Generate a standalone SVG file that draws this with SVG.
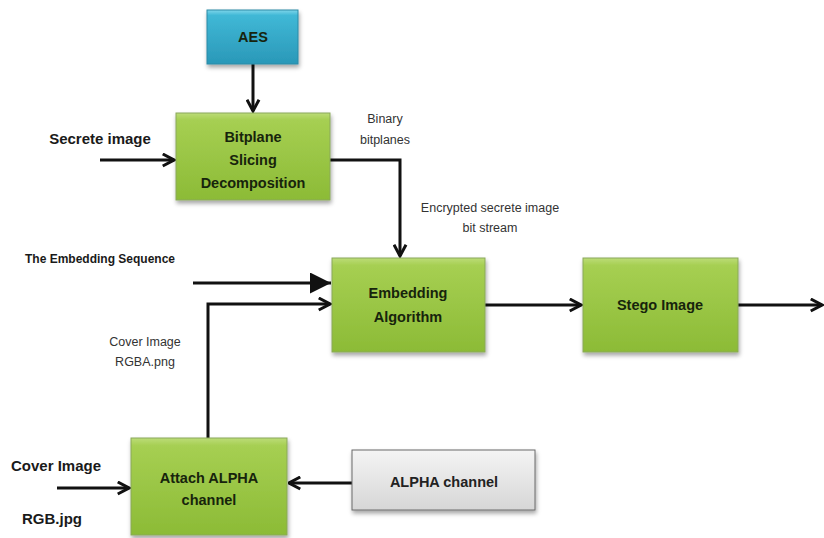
<svg xmlns="http://www.w3.org/2000/svg" width="824" height="538" viewBox="0 0 824 538">
<style>
.g{fill:url(#green);stroke:#8aa85a;stroke-width:1}
.lbl{font-family:"Liberation Sans",Arial,sans-serif;font-weight:bold;font-size:14.5px;fill:#17240c;text-anchor:middle;dominant-baseline:central}
.ext{font-family:"Liberation Sans",Arial,sans-serif;font-weight:bold;font-size:15px;fill:#1a1a1a;text-anchor:middle;dominant-baseline:central}
.note{font-family:"Liberation Sans",Arial,sans-serif;font-size:12.5px;fill:#333;text-anchor:middle;dominant-baseline:central}
.line{fill:none;stroke:#111;stroke-width:3;marker-end:url(#chev)}
</style>
<defs>
<linearGradient id="green" x1="0" y1="0" x2="0" y2="1">
<stop offset="0" stop-color="#bcdc78"/>
<stop offset="0.08" stop-color="#a6cf52"/>
<stop offset="1" stop-color="#8cbb36"/>
</linearGradient>
<linearGradient id="blue" x1="0" y1="0" x2="0" y2="1">
<stop offset="0" stop-color="#7fd6ea"/>
<stop offset="0.1" stop-color="#40b8d6"/>
<stop offset="1" stop-color="#2a98b8"/>
</linearGradient>
<linearGradient id="gray" x1="0" y1="0" x2="0" y2="1">
<stop offset="0" stop-color="#f4f4f4"/>
<stop offset="1" stop-color="#d6d6d6"/>
</linearGradient>
<filter id="sh" x="-10%" y="-10%" width="125%" height="130%">
<feDropShadow dx="1" dy="3" stdDeviation="2" flood-color="#000" flood-opacity="0.35"/>
</filter>
<marker id="chev" viewBox="0 0 10 10" refX="9" refY="5" markerWidth="5" markerHeight="5" orient="auto" markerUnits="strokeWidth">
<path d="M1.5,1 L9,5 L1.5,9" fill="none" stroke="#111" stroke-width="2"/>
</marker>
<marker id="tri" viewBox="0 0 10 10" refX="10" refY="5" markerWidth="7" markerHeight="7" orient="auto" markerUnits="strokeWidth">
<path d="M0,0 L10,5 L0,10 z" fill="#111"/>
</marker>
</defs>

<g id="connectors">
<line class="line" x1="253" y1="64" x2="253" y2="111"/>
<line class="line" x1="100" y1="160" x2="174" y2="160"/>
<polyline class="line" points="330,160 400,160 400,256"/>
<line x1="193" y1="283" x2="331" y2="283" stroke="#111" stroke-width="3" marker-end="url(#tri)"/>
<polyline class="line" points="208,438 208,304 330,304"/>
<line class="line" x1="485" y1="305" x2="581" y2="305"/>
<line class="line" x1="738" y1="305" x2="822" y2="305"/>
<line class="line" x1="352" y1="483" x2="289" y2="483"/>
<line class="line" x1="57" y1="488" x2="129" y2="488"/>
</g>

<g id="aes">
<rect x="207" y="10" width="91" height="54" fill="url(#blue)" stroke="#2b8aa6" filter="url(#sh)"/>
<text class="lbl" x="253" y="37">AES</text>
</g>

<g id="bitplane">
<rect class="g" x="176" y="113" width="154" height="87" filter="url(#sh)"/>
<text class="lbl" x="253" y="137">Bitplane</text>
<text class="lbl" x="253" y="160">Slicing</text>
<text class="lbl" x="253" y="183">Decomposition</text>
</g>

<g id="embedding">
<rect class="g" x="332" y="258" width="153" height="94" filter="url(#sh)"/>
<text class="lbl" x="408" y="293">Embedding</text>
<text class="lbl" x="408" y="317">Algorithm</text>
</g>

<g id="stego">
<rect class="g" x="583" y="258" width="155" height="94" filter="url(#sh)"/>
<text class="lbl" x="660" y="305">Stego Image</text>
</g>

<g id="attach">
<rect class="g" x="131" y="438" width="156" height="97" filter="url(#sh)"/>
<text class="lbl" x="209" y="478">Attach ALPHA</text>
<text class="lbl" x="209" y="500">channel</text>
</g>

<g id="alpha">
<rect x="352" y="450" width="183" height="60" fill="url(#gray)" stroke="#6a6a6a" filter="url(#sh)"/>
<text class="lbl" x="444" y="482" style="fill:#222">ALPHA channel</text>
</g>

<g id="labels">
<text class="ext" x="100" y="138">Secrete image</text>
<text class="note" x="385" y="119">Binary</text>
<text class="note" x="385" y="140">bitplanes</text>
<text class="note" x="490" y="208">Encrypted secrete image</text>
<text class="note" x="490" y="228">bit stream</text>
<text x="100" y="259" style="font-family:'Liberation Sans',Arial,sans-serif;font-weight:bold;font-size:12px;fill:#1a1a1a;text-anchor:middle;dominant-baseline:central">The Embedding Sequence</text>
<text class="note" x="145" y="342">Cover Image</text>
<text class="note" x="145" y="362">RGBA.png</text>
<text class="ext" x="56" y="465">Cover Image</text>
<text class="ext" x="52" y="518">RGB.jpg</text>
</g>
</svg>
